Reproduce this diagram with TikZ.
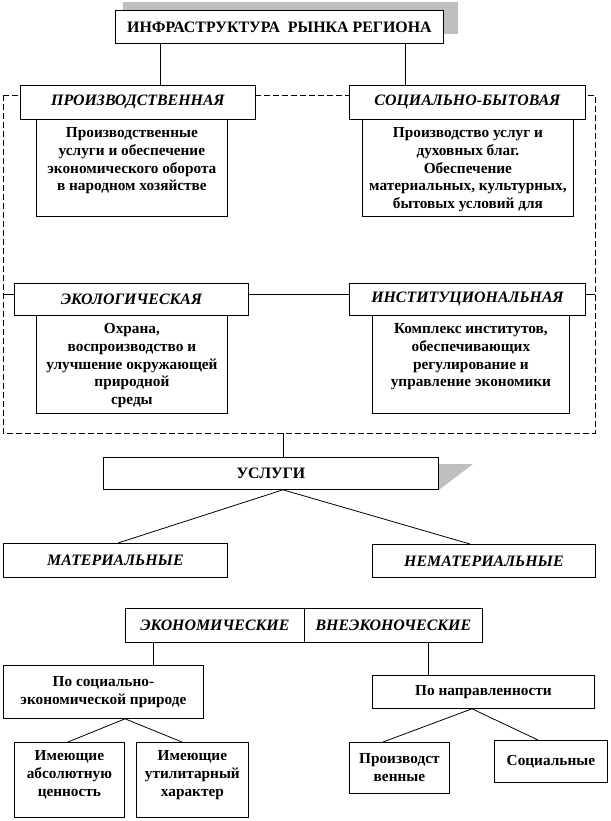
\documentclass[tikz,border=0pt]{standalone}
\usepackage{fontspec}
\setmainfont{Liberation Serif}
\newcommand\tbx[4]{\parbox[c][#2][t]{#1}{\vspace*{#3}\centering #4\par}}
\begin{document}
\begin{tikzpicture}[x=1pt,y=-1pt,
  box/.style={draw, fill=white, line width=0.8pt, inner sep=0pt, anchor=north west, align=center},
  hd/.style={box, font=\fontsize{15.9}{18}\selectfont\bfseries\itshape},
  ds/.style={box, font=\fontsize{15.3}{17.8}\selectfont\bfseries},
  ln/.style={line width=0.8pt},
  dl/.style={line width=0.8pt, dash pattern=on 6pt off 3pt},
  shd/.style={fill=black!25, draw=none}]
\useasboundingbox (0,0) rectangle (610,821);
% title
\fill[shd] (123,2) rectangle (458,34);
\node[box, minimum width=328pt, minimum height=33pt, font=\fontsize{15.9}{18}\selectfont\bfseries] (title) at (115,10) {ИНФРАСТРУКТУРА\ \ РЫНКА РЕГИОНА};
% frame
\coordinate (ftl) at (3,95);
\coordinate (fbr) at (595,433);
\draw[dl] (ftl) rectangle (fbr);
\draw[ln] (ftl |- 0,294) -- (fbr |- 0,294);
% top row
\node[hd, minimum width=235pt, minimum height=34pt] (prod) at (20,85) {ПРОИЗВОДСТВЕННАЯ};
\node[hd, minimum width=236pt, minimum height=34pt] (soc) at (349,85) {СОЦИАЛЬНО-БЫТОВАЯ};
\node[ds] (prodd) at (36,119) {\tbx{191pt}{97pt}{8pt}{Производственные\\услуги и обеспечение\\экономического оборота\\в народном хозяйстве}};
\node[ds] (socd) at (362,119) {\tbx{211pt}{97pt}{8pt}{Производство услуг и\\духовных благ.\\Обеспечение\\материальных, культурных,\\бытовых условий для}};
\draw[ln] (title.south -| 160,0) -- (prod.north -| 160,0);
\draw[ln] (title.south -| 405,0) -- (soc.north -| 405,0);
% middle row
\node[hd, minimum width=234pt, minimum height=32pt] (eco) at (14,283) {ЭКОЛОГИЧЕСКАЯ};
\node[hd, minimum width=236pt, minimum height=32pt] (inst) at (349,283) {ИНСТИТУЦИОНАЛЬНАЯ};
\node[ds] (ecod) at (36,315) {\tbx{191pt}{98pt}{8pt}{Охрана,\\воспроизводство и\\улучшение окружающей\\природной\\среды}};
\node[ds] (instd) at (372,315) {\tbx{197pt}{98pt}{8pt}{Комплекс институтов,\\обеспечивающих\\регулирование и\\управление экономики}};
% services
\fill[shd] (438,464) -- (473,464) -- (440,489) -- (438,489) -- cycle;
\node[box, minimum width=335pt, minimum height=32pt, font=\fontsize{15.9}{18}\selectfont\bfseries] (usl) at (103,457) {УСЛУГИ};
\draw[ln] (fbr -| 283,0) -- (usl.north -| 283,0);
\node[hd, minimum width=224pt, minimum height=34pt] (mat) at (3,543) {МАТЕРИАЛЬНЫЕ};
\node[hd, minimum width=223pt, minimum height=33pt] (nemat) at (372,544) {НЕМАТЕРИАЛЬНЫЕ};
\draw[ln] (usl.south -| 283,0) -- (mat.north -| 118,0);
\draw[ln] (usl.south -| 283,0) -- (nemat.north -| 470,0);
% bottom
\node[hd, minimum width=179pt, minimum height=34pt] (econ) at (125,608) {ЭКОНОМИЧЕСКИЕ};
\node[hd, minimum width=178pt, minimum height=34pt] (vne) at (304,608) {ВНЕЭКОНОЧЕСКИЕ};
\node[ds, minimum width=200pt, minimum height=53pt] (psoc) at (3,665) {По социально-\\экономической природе};
\node[ds, minimum width=222pt, minimum height=33pt] (pnapr) at (372,675) {По направленности};
\draw[ln] (econ.south -| 153,0) -- (psoc.north -| 153,0);
\draw[ln] (vne.south -| 428,0) -- (pnapr.north -| 428,0);
\node[ds] (abs) at (14,742) {\tbx{110pt}{75pt}{8pt}{Имеющие\\абсолютную\\ценность}};
\node[ds] (util) at (136,742) {\tbx{112pt}{75pt}{8pt}{Имеющие\\утилитарный\\характер}};
\draw[ln] (psoc.south -| 125,0) -- (abs.north -| 68,0);
\draw[ln] (psoc.south -| 125,0) -- (util.north -| 182,0);
\node[ds, minimum width=100pt, minimum height=51pt] (proizv) at (349,742) {Производст\\венные};
\node[ds, minimum width=113pt, minimum height=42pt] (socl) at (494,740) {Социальные};
\draw[ln] (pnapr.south -| 472,0) -- (proizv.north -| 383,0);
\draw[ln] (pnapr.south -| 472,0) -- (socl.north -| 538,0);
\end{tikzpicture}
\end{document}
